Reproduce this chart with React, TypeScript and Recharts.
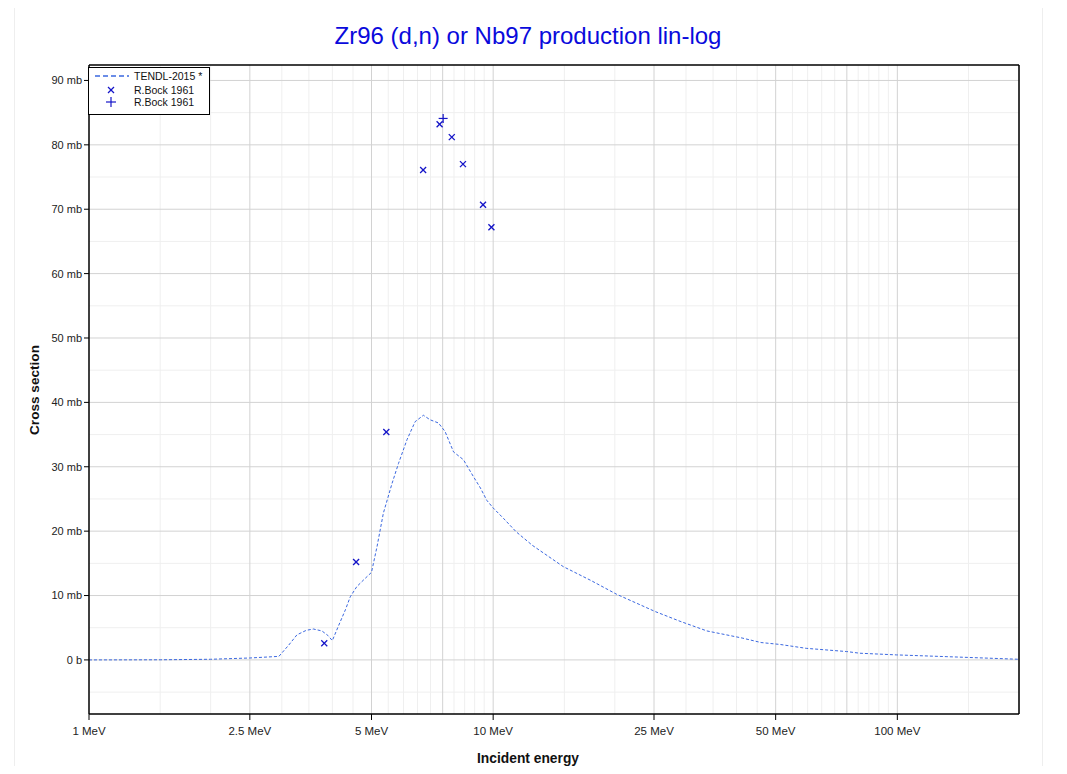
import React from "react";
import {
  ComposedChart,
  Line,
  Scatter,
  XAxis,
  YAxis,
  CartesianGrid,
} from "recharts";

// TENDL-2015 curve: incident energy (MeV) and cross section (mb)
const tendlE = [
  1, 1.5, 2, 2.5, 2.95, 3.12, 3.27, 3.45, 3.59, 3.77, 3.9, 4.0, 4.15, 4.31,
  4.43, 4.6, 4.83, 5.0, 5.16, 5.35, 5.62, 5.83, 6.12, 6.41, 6.72, 6.98, 7.32,
  7.6, 7.98, 8.44, 8.93, 9.3, 9.64, 10.0, 10.6, 11.4, 12.5, 14.9, 17.5, 20.2,
  25.2, 29, 33.8, 41.3, 46, 51.3, 59.5, 74.9, 80.7, 99.6, 132, 200,
];
const tendlXS = [
  0, 0.02, 0.1, 0.3, 0.55, 2.3, 3.9, 4.6, 4.8, 4.5, 3.8, 3.0, 5.4, 7.8, 9.8,
  11.4, 12.7, 13.6, 17.6, 22.8, 27.4, 30.5, 34.2, 37.0, 38.0, 37.3, 36.8, 35.5,
  32.3, 31.1, 28.5, 26.7, 24.8, 23.6, 22.0, 19.9, 17.8, 14.5, 12.3, 10.2, 7.5,
  6.0, 4.5, 3.4, 2.7, 2.4, 1.8, 1.3, 1.04, 0.78, 0.51, 0.1,
];

// R.Bock 1961 (x markers)
const bockXE = [3.82, 4.58, 5.44, 6.71, 7.37, 7.9, 8.42, 9.44, 9.9];
const bockXXS = [2.6, 15.2, 35.4, 76.1, 83.2, 81.2, 77.0, 70.7, 67.2];

// R.Bock 1961 (+ marker)
const bockPE = [7.52];
const bockPXS = [84.1];

// Axis ticks
const xLabelTicks = [1, 2.5, 5, 10, 25, 50, 100];
const xMajorGrid = [2.5, 5, 7.5, 10, 25, 50, 75, 100, 200];
const xMinorGrid = [
  1.5, 2, 3, 3.5, 4, 4.5, 5.5, 6, 6.5, 7, 8, 8.5, 9, 9.5, 15, 20, 30, 35, 40,
  45, 55, 60, 65, 70, 80, 85, 90, 95, 150,
];
const yLabelTicks = [0, 10, 20, 30, 40, 50, 60, 70, 80, 90];
const yMinorTicks = [-5, 5, 15, 25, 35, 45, 55, 65, 75, 85];

const X_DOMAIN: [number, number] = [1, 200];
const Y_DOMAIN: [number, number] = [-8.4, 92.4];

const curve = tendlE.map((e, i) => ({ e, v: tendlXS[i] }));
const bockX = bockXE.map((e, i) => ({ e, v: bockXXS[i] }));
const bockP = bockPE.map((e, i) => ({ e, v: bockPXS[i] }));

const xAllTicks = [...xMinorGrid, ...xMajorGrid, 1].sort((a, b) => a - b);
const yAllTicks = [...yLabelTicks, ...yMinorTicks].sort((a, b) => a - b);

const MARK = "#1515c8";
const LINE = "#3b68e0";
const FONT = "'Liberation Sans', Arial, sans-serif";

const CrossShape = (props: any) => {
  const { cx, cy } = props;
  if (cx == null || cy == null) return null;
  const s = 3;
  return (
    <g stroke={MARK} strokeWidth={1.3}>
      <line x1={cx - s} y1={cy - s} x2={cx + s} y2={cy + s} />
      <line x1={cx - s} y1={cy + s} x2={cx + s} y2={cy - s} />
    </g>
  );
};

const PlusShape = (props: any) => {
  const { cx, cy } = props;
  if (cx == null || cy == null) return null;
  const s = 4.5;
  return (
    <g stroke={MARK} strokeWidth={1.2}>
      <line x1={cx - s} y1={cy} x2={cx + s} y2={cy} />
      <line x1={cx} y1={cy - s} x2={cx} y2={cy + s} />
    </g>
  );
};

const yFmt = (v: number) => (v === 0 ? "0 b" : `${v} mb`);
const xFmt = (v: number) => `${v} MeV`;

export default function App() {
  return (
    <div style={{ position: "relative", width: 1051, height: 758, fontFamily: FONT }}>
      <div
        style={{
          position: "absolute",
          left: 6,
          top: -3,
          width: 1029,
          height: 770,
          border: "1px solid #eeeeee",
          boxSizing: "border-box",
          pointerEvents: "none",
        }}
      />
      <div
        style={{
          position: "absolute",
          left: 0,
          width: 1040,
          top: 13,
          textAlign: "center",
          fontSize: 24,
          color: "#0a0adc",
          fontFamily: FONT,
          lineHeight: "30px",
        }}
      >
        Zr96 (d,n) or Nb97 production lin-log
      </div>
      <div
        style={{
          position: "absolute",
          left: 26,
          top: 382,
          transform: "translate(-50%, -50%) rotate(-90deg)",
          fontSize: 13.6,
          fontWeight: "bold",
          whiteSpace: "nowrap",
          color: "#111",
        }}
      >
        Cross section
      </div>
      <div
        style={{
          position: "absolute",
          left: 520,
          top: 750,
          transform: "translate(-50%, -50%)",
          fontSize: 13.8,
          fontWeight: "bold",
          whiteSpace: "nowrap",
          color: "#111",
        }}
      >
        Incident energy
      </div>
      <ComposedChart
        width={1051}
        height={758}
        margin={{ top: 57, right: 40, left: 21, bottom: 22 }}
        style={{ fontFamily: FONT }}
      >
        <CartesianGrid
          stroke="#efefef"
          strokeWidth={1}
          verticalValues={xMinorGrid}
          horizontalValues={yMinorTicks}
        />
        <CartesianGrid
          stroke="#d2d2d2"
          strokeWidth={1}
          verticalValues={xMajorGrid}
          horizontalValues={yLabelTicks}
        />
        <XAxis
          xAxisId={0}
          dataKey="e"
          type="number"
          scale="log"
          domain={X_DOMAIN}
          allowDataOverflow
          ticks={xLabelTicks}
          tickFormatter={xFmt}
          interval={0}
          height={30}
          tickSize={6}
          tickMargin={7}
          stroke="#000"
          axisLine={{ stroke: "#000", strokeWidth: 1.5 }}
          tick={{ fontSize: 11.5, fill: "#222" }}
        />
        <XAxis
          xAxisId="bm"
          dataKey="e"
          type="number"
          scale="log"
          domain={X_DOMAIN}
          allowDataOverflow
          ticks={xAllTicks}
          interval={0}
          mirror
          tick={false}
          tickSize={4}
          axisLine={false}
          tickLine={{ stroke: "#000" }}
        />
        <XAxis
          xAxisId="top"
          orientation="top"
          dataKey="e"
          type="number"
          scale="log"
          domain={X_DOMAIN}
          allowDataOverflow
          ticks={xAllTicks}
          interval={0}
          mirror
          tick={false}
          tickSize={4}
          axisLine={{ stroke: "#000", strokeWidth: 1.5 }}
          tickLine={{ stroke: "#000" }}
        />
        <YAxis
          yAxisId={0}
          dataKey="v"
          type="number"
          domain={Y_DOMAIN}
          allowDataOverflow
          ticks={yLabelTicks}
          tickFormatter={yFmt}
          interval={0}
          width={60}
          tickSize={5}
          tickMargin={2}
          axisLine={{ stroke: "#000", strokeWidth: 1.5 }}
          tickLine={{ stroke: "#000" }}
          tick={{ fontSize: 11, fill: "#222" }}
        />
        <YAxis
          yAxisId="lm"
          dataKey="v"
          type="number"
          domain={Y_DOMAIN}
          allowDataOverflow
          ticks={yMinorTicks}
          interval={0}
          mirror
          tick={false}
          tickSize={4}
          axisLine={false}
          tickLine={{ stroke: "#000" }}
        />
        <YAxis
          yAxisId="right"
          orientation="right"
          dataKey="v"
          type="number"
          domain={Y_DOMAIN}
          allowDataOverflow
          ticks={yAllTicks}
          interval={0}
          mirror
          tick={false}
          tickSize={4}
          axisLine={{ stroke: "#000", strokeWidth: 1.5 }}
          tickLine={{ stroke: "#000" }}
        />
        <Line
          data={curve}
          dataKey="v"
          type="linear"
          stroke={LINE}
          strokeWidth={1}
          strokeDasharray="3 2"
          dot={false}
          activeDot={false}
          isAnimationActive={false}
        />
        <Scatter
          data={bockX}
          dataKey="v"
          shape={<CrossShape />}
          isAnimationActive={false}
        />
        <Scatter
          data={bockP}
          dataKey="v"
          shape={<PlusShape />}
          isAnimationActive={false}
        />
      </ComposedChart>
      <div
        style={{
          position: "absolute",
          left: 80,
          top: 59,
          width: 122,
          height: 48,
          border: "1px solid #000",
          background: "#fff",
          boxSizing: "border-box",
          fontSize: 10.5,
          color: "#111",
        }}
      >
        <svg width={40} height={46} style={{ position: "absolute", left: 0, top: 0 }}>
          <line x1={6} y1={8} x2={40} y2={8} stroke={LINE} strokeWidth={1.5} strokeDasharray="5 3" />
          <g stroke={MARK} strokeWidth={1.2}>
            <line x1={19} y1={19} x2={25} y2={25} />
            <line x1={19} y1={25} x2={25} y2={19} />
            <line x1={17} y1={34} x2={27} y2={34} />
            <line x1={22} y1={29} x2={22} y2={39} />
          </g>
        </svg>
        <div style={{ position: "absolute", left: 45, top: 2, lineHeight: "12px", whiteSpace: "nowrap" }}>
          TENDL-2015 *
        </div>
        <div style={{ position: "absolute", left: 45, top: 16, lineHeight: "12px", whiteSpace: "nowrap" }}>
          R.Bock 1961
        </div>
        <div style={{ position: "absolute", left: 45, top: 28, lineHeight: "12px", whiteSpace: "nowrap" }}>
          R.Bock 1961
        </div>
      </div>
    </div>
  );
}
